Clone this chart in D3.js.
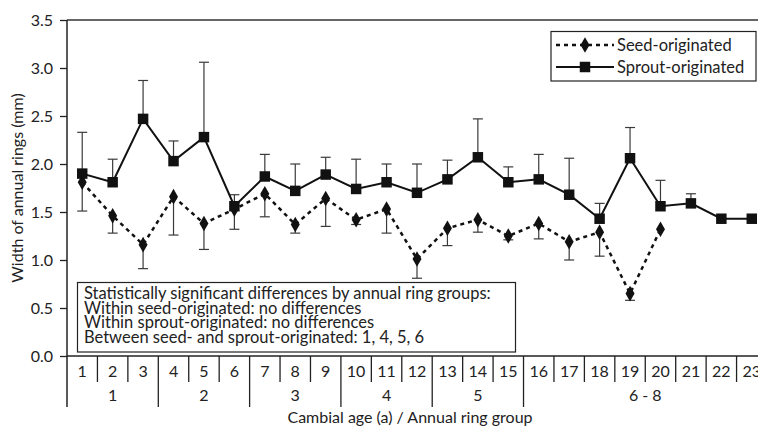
<!DOCTYPE html>
<html>
<head>
<meta charset="utf-8">
<style>
  body { margin: 0; background: #fff; }
  svg { display: block; }
  text { font-family: Lato, "Open Sans", sans-serif; fill: #222; }
  .tick line { stroke: #222; }
  .tick text { font-size: 16px; font-family: Lato, sans-serif; fill: #222; }
</style>
</head>
<body>
<svg id="chart" width="758" height="429"></svg>
<script src="https://d3js.org/d3.v7.min.js"></script>
<script>
// cambial age categories and groups
var ages = d3.range(1, 24);
var groups = [
  {label: "1", from: 1, to: 3},
  {label: "2", from: 4, to: 6},
  {label: "3", from: 7, to: 9},
  {label: "4", from: 10, to: 12},
  {label: "5", from: 13, to: 15},
  {label: "6 - 8", from: 16, to: 23}
];
// seed-originated: mean and lower error bar end
var seedMean = [1.81, 1.46, 1.16, 1.66, 1.38, 1.53, 1.69, 1.37, 1.64, 1.42, 1.53, 1.01,
                1.33, 1.42, 1.25, 1.38, 1.19, 1.29, 0.65, 1.32, null, null, null];
var seedLow  = [1.51, 1.28, 0.91, 1.26, 1.11, 1.32, 1.45, 1.28, 1.35, 1.37, 1.28, 0.81,
                1.15, 1.29, 1.21, 1.22, 1.00, 1.04, 0.58, null, null, null, null];
// sprout-originated: mean and upper error bar end
var sproutMean = [1.90, 1.81, 2.47, 2.03, 2.28, 1.56, 1.87, 1.72, 1.89, 1.74, 1.81, 1.70,
                  1.84, 2.07, 1.81, 1.84, 1.68, 1.43, 2.06, 1.56, 1.59, 1.43, 1.43];
var sproutHigh = [2.33, 2.05, 2.87, 2.24, 3.06, 1.68, 2.10, 2.00, 2.07, 2.05, 2.00, 2.00,
                  2.04, 2.47, 1.97, 2.10, 2.06, 1.59, 2.38, 1.83, 1.69, null, null];
var yTicks = [0, 0.5, 1, 1.5, 2, 2.5, 3, 3.5];
var noteLines = [
  "Statistically significant differences by annual ring groups:",
  "Within seed-originated: no differences",
  "Within sprout-originated: no differences",
  "Between seed- and sprout-originated: 1, 4, 5, 6"
];

var svg = d3.select("#chart");
var mLeft = 67, mRight = 767, mTop = 20, mBottom = 356;

var x = d3.scaleBand().domain(ages).range([mLeft, mRight]);
var y = d3.scaleLinear().domain([0, 3.5]).range([mBottom, mTop]);
var cx = function(a) { return x(a) + x.bandwidth() / 2; };

// frame: top line, left axis line, bottom axis line
svg.append("line").attr("x1", mLeft).attr("x2", 758).attr("y1", mTop).attr("y2", mTop)
  .attr("stroke", "#333").attr("stroke-width", 1.5);
svg.append("line").attr("x1", mLeft).attr("x2", mLeft).attr("y1", mTop).attr("y2", 407)
  .attr("stroke", "#222").attr("stroke-width", 1.5);
svg.append("line").attr("x1", mLeft).attr("x2", mRight).attr("y1", mBottom).attr("y2", mBottom)
  .attr("stroke", "#222").attr("stroke-width", 1.5);

// y axis
var yAxis = svg.append("g").attr("transform", "translate(" + mLeft + ",0)")
  .call(d3.axisLeft(y).tickValues(yTicks).tickFormat(d3.format(".1f")).tickSize(7).tickPadding(7));
yAxis.select(".domain").remove();
yAxis.selectAll(".tick line").attr("stroke-width", 1.3);

svg.append("text")
  .attr("transform", "translate(23," + ((mTop + mBottom) / 2) + ") rotate(-90)")
  .attr("text-anchor", "middle").style("font-size", "16px")
  .text("Width of annual rings (mm)");

// category axis (two levels)
var groupEdges = groups.map(function(g) { return g.to; });
ages.forEach(function(a) {
  var xr = x(a) + x.bandwidth();
  var isGroupEdge = groupEdges.indexOf(a) >= 0;
  if (a < ages.length) {
    svg.append("line").attr("x1", xr).attr("x2", xr)
      .attr("y1", mBottom).attr("y2", isGroupEdge ? 407 : 382)
      .attr("stroke", "#222").attr("stroke-width", 1.3);
  }
  svg.append("text").attr("x", cx(a)).attr("y", 377)
    .attr("text-anchor", "middle").style("font-size", "16px").text(a);
});
groups.forEach(function(g) {
  var x0 = x(g.from), x1 = x(g.to) + x.bandwidth();
  svg.append("text").attr("x", (x0 + x1) / 2).attr("y", 401)
    .attr("text-anchor", "middle").style("font-size", "16px").text(g.label);
});
svg.append("text").attr("x", 410).attr("y", 423).attr("text-anchor", "middle")
  .style("font-size", "16px").text("Cambial age (a) / Annual ring group");

// error bars
var cap = 5;
function errorBar(a, v0, v1) {
  var g = svg.append("g").attr("stroke", "#3a3a3a").attr("stroke-width", 1.2);
  g.append("line").attr("x1", cx(a)).attr("x2", cx(a)).attr("y1", y(v0)).attr("y2", y(v1));
  g.append("line").attr("x1", cx(a) - cap).attr("x2", cx(a) + cap).attr("y1", y(v1)).attr("y2", y(v1));
}
ages.forEach(function(a, i) {
  if (seedLow[i] != null) errorBar(a, seedMean[i], seedLow[i]);
  if (sproutHigh[i] != null) errorBar(a, sproutMean[i], sproutHigh[i]);
});

// lines
var line = d3.line().defined(function(d) { return d.v != null; })
  .x(function(d) { return cx(d.a); }).y(function(d) { return y(d.v); });
var seedData = ages.map(function(a, i) { return {a: a, v: seedMean[i]}; });
var sproutData = ages.map(function(a, i) { return {a: a, v: sproutMean[i]}; });

svg.append("path").datum(seedData).attr("d", line).attr("fill", "none")
  .attr("stroke", "#111").attr("stroke-width", 2.5).attr("stroke-dasharray", "4,4");
svg.append("path").datum(sproutData).attr("d", line).attr("fill", "none")
  .attr("stroke", "#111").attr("stroke-width", 2);

var diamond = d3.symbol().type(d3.symbolDiamond).size(70);
var square = d3.symbol().type(d3.symbolSquare).size(110);

svg.selectAll(".seed").data(seedData.filter(function(d) { return d.v != null; }))
  .enter().append("path").attr("class", "seed")
  .attr("transform", function(d) { return "translate(" + cx(d.a) + "," + y(d.v) + ")"; })
  .attr("d", diamond).attr("fill", "#111");
svg.selectAll(".sprout").data(sproutData)
  .enter().append("path").attr("class", "sprout")
  .attr("transform", function(d) { return "translate(" + cx(d.a) + "," + y(d.v) + ")"; })
  .attr("d", square).attr("fill", "#111");

// legend
var lg = svg.append("g");
lg.append("rect").attr("x", 551).attr("y", 31.5).attr("width", 205).attr("height", 49.5)
  .attr("fill", "#fff").attr("stroke", "#222").attr("stroke-width", 1.2);
[{name: "Seed-originated", dash: "4,4", w: 2.5, sym: diamond, yy: 45},
 {name: "Sprout-originated", dash: null, w: 2, sym: square, yy: 67}].forEach(function(s) {
  lg.append("line").attr("x1", 556).attr("x2", 614).attr("y1", s.yy).attr("y2", s.yy)
    .attr("stroke", "#111").attr("stroke-width", s.w).attr("stroke-dasharray", s.dash);
  lg.append("path").attr("transform", "translate(585," + s.yy + ")").attr("d", s.sym).attr("fill", "#111");
  lg.append("text").attr("x", 617).attr("y", s.yy + 6).style("font-size", "16.5px").text(s.name);
});

// statistics note
var note = svg.append("g");
note.append("rect").attr("x", 77.5).attr("y", 282.5).attr("width", 438).attr("height", 69.5)
  .attr("fill", "#fff").attr("stroke", "#222").attr("stroke-width", 1.2);
noteLines.forEach(function(t, i) {
  note.append("text").attr("x", 84).attr("y", 299 + i * 14.6)
    .style("font-size", "16.5px").text(t);
});
</script>
</body>
</html>
